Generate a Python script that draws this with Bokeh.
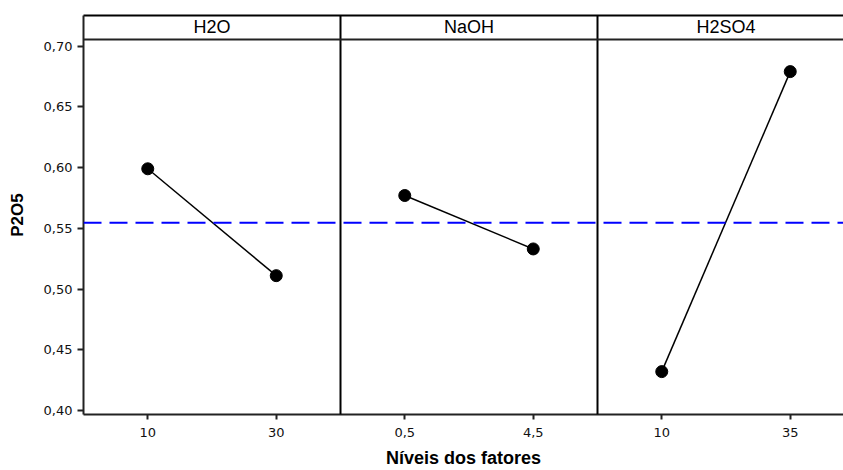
from bokeh.plotting import figure
from bokeh.models import Range1d, FixedTicker, LinearAxis, Span, ColumnDataSource
from bokeh.core.properties import value
from bokeh.embed import file_html
from bokeh.resources import INLINE

# ---- data ----
factors = ["H2O", "NaOH", "H2SO4"]
level_labels = [["10", "30"], ["0,5", "4,5"], ["10", "35"]]
mean_h2o = [0.599, 0.511]
mean_naoh = [0.577, 0.533]
mean_h2so4 = [0.432, 0.679]
overall_mean = 0.5545
y_ticks = [0.40, 0.45, 0.50, 0.55, 0.60, 0.65, 0.70]
y_tick_labels = ["0,40", "0,45", "0,50", "0,55", "0,60", "0,65", "0,70"]

series = [mean_h2o, mean_naoh, mean_h2so4]

W, H = 843, 470
p = figure(width=W, height=H, output_backend="svg", toolbar_location=None,
           x_range=Range1d(0, 760 / 128.5), y_range=Range1d(0.3967, 0.7252),
           min_border_left=83, min_border_right=0, min_border_top=15, min_border_bottom=55,
           background_fill_color="white", border_fill_color="white")
p.outline_line_color = None
p.xgrid.visible = False
p.ygrid.visible = False

xa = p.below[0]
ya = p.left[0]

# positions: each factor level occupies one unit; each factor panel two units
x_ticks = []
x_labels = {}
for i, (lv, ys) in enumerate(zip(level_labels, series)):
    xs = [2 * i + 0.5, 2 * i + 1.5]
    for x, l in zip(xs, lv):
        x_ticks.append(x)
        x_labels[x] = l
    src = ColumnDataSource(dict(x=xs, y=ys))
    p.line("x", "y", source=src, line_color="black", line_width=1.5)
    p.scatter("x", "y", source=src, size=12, fill_color="black", line_color="black")

# overall mean reference line
p.add_layout(Span(location=overall_mean, dimension="width", line_color="#0000FF",
                  line_width=2, line_dash="18 8"))

# panel dividers
for i in range(1, len(factors)):
    p.add_layout(Span(location=2 * i, dimension="height", line_color="black", line_width=2))

# strip header bottom line and labels
strip_bottom = 0.7055
p.add_layout(Span(location=strip_bottom, dimension="width", line_color="#222222", line_width=2))
hdr = ColumnDataSource(dict(x=[2 * i + 1 for i in range(len(factors))],
                            y=[(strip_bottom + 0.7252) / 2] * len(factors),
                            t=factors))
p.text("x", "y", text="t", source=hdr, text_align="center", text_baseline="middle",
       text_font=value("Liberation Sans"), text_font_size="18px", text_color="black")

# top border
top = LinearAxis(ticker=FixedTicker(ticks=[]), axis_line_width=2, axis_line_color="black",
                 major_label_text_font_size="0px", major_tick_line_color=None,
                 minor_tick_line_color=None)
p.add_layout(top, "above")

# x axis
xa.ticker = FixedTicker(ticks=x_ticks)
xa.major_label_overrides = x_labels
xa.minor_tick_line_color = None
xa.major_tick_in = 0
xa.major_tick_out = 5
xa.major_tick_line_width = 2
xa.major_tick_line_color = "#222222"
xa.axis_line_width = 2
xa.axis_line_color = "#222222"
xa.major_label_text_font = "DejaVu Sans"
xa.major_label_text_font_size = "13px"
xa.major_label_text_color = "#111111"
xa.major_label_standoff = 8
xa.axis_label = "Níveis dos fatores"
xa.axis_label_text_font = "Liberation Sans"
xa.axis_label_text_font_style = "bold"
xa.axis_label_text_font_size = "18px"
xa.axis_label_text_color = "black"
xa.axis_label_standoff = 8

# y axis
ya.ticker = FixedTicker(ticks=y_ticks)
ya.major_label_overrides = dict(zip(y_ticks, y_tick_labels))
ya.minor_tick_line_color = None
ya.major_tick_in = 0
ya.major_tick_out = 6
ya.major_tick_line_width = 2
ya.major_tick_line_color = "#222222"
ya.axis_line_width = 2
ya.axis_line_color = "#222222"
ya.major_label_text_font = "DejaVu Sans"
ya.major_label_text_font_size = "13px"
ya.major_label_text_color = "#111111"
ya.major_label_standoff = 5
ya.axis_label = "P2O5"
ya.axis_label_text_font = "Liberation Sans"
ya.axis_label_text_font_style = "bold"
ya.axis_label_text_font_size = "17px"
ya.axis_label_text_color = "black"
ya.axis_label_standoff = 14

open("out.html", "w").write(file_html(p, INLINE))
